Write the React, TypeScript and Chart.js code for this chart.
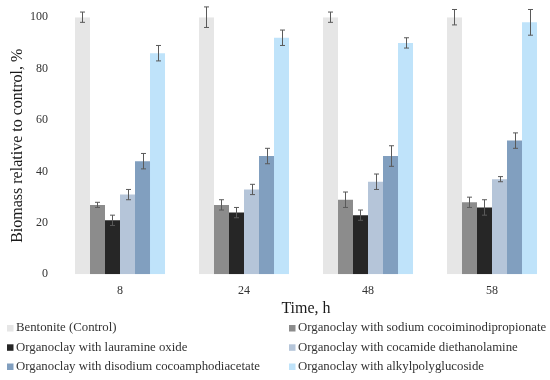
import React, { useEffect, useRef } from "react";
import { Chart, registerables } from "chart.js";

Chart.register(...registerables);

const categories = ["8", "24", "48", "58"];

const seriesLabels = [
  "Bentonite (Control)",
  "Organoclay with sodium cocoiminodipropionate",
  "Organoclay with lauramine oxide",
  "Organoclay with cocamide diethanolamine",
  "Organoclay with disodium cocoamphodiacetate",
  "Organoclay with alkylpolyglucoside",
];

const bentonite = [100, 100, 100, 100];
const bentoniteErr = [2, 4, 2, 3];
const sodium = [27, 27, 29, 28];
const sodiumErr = [1, 2, 3, 2];
const lauramine = [21, 24, 23, 26];
const lauramineErr = [2, 2, 2, 3];
const cocamide = [31, 33, 36, 37];
const cocamideErr = [2, 2, 3, 1];
const disodium = [44, 46, 46, 52];
const disodiumErr = [3, 3, 4, 3];
const alkyl = [86, 92, 90, 98];
const alkylErr = [3, 3, 2, 5];

const seriesValues = [bentonite, sodium, lauramine, cocamide, disodium, alkyl];
const seriesErrors = [bentoniteErr, sodiumErr, lauramineErr, cocamideErr, disodiumErr, alkylErr];
const seriesColors = ["#e6e6e6", "#8c8c8c", "#262626", "#b5c5d9", "#819fbf", "#bfe3fa"];

const yTicks = [0, 20, 40, 60, 80, 100];

const FONT = "'Liberation Serif', 'Times New Roman', serif";

const errorBarPlugin = {
  id: "errorBars",
  afterDatasetsDraw(chart: any) {
    const ctx = chart.ctx;
    const yScale = chart.scales.y;
    ctx.save();
    ctx.strokeStyle = "#5a5a5a";
    ctx.lineWidth = 1;
    chart.data.datasets.forEach((ds: any, i: number) => {
      const meta = chart.getDatasetMeta(i);
      meta.data.forEach((el: any, j: number) => {
        const v = ds.data[j];
        const e = ds.errors[j];
        const x = Math.round(el.x) + 0.5;
        const yt = yScale.getPixelForValue(v + e);
        const yb = yScale.getPixelForValue(v - e);
        ctx.beginPath();
        ctx.moveTo(x, yt);
        ctx.lineTo(x, yb);
        ctx.moveTo(x - 2.5, yt);
        ctx.lineTo(x + 2.5, yt);
        ctx.moveTo(x - 2.5, yb);
        ctx.lineTo(x + 2.5, yb);
        ctx.stroke();
      });
    });
    ctx.restore();
  },
};

const legendPlugin = {
  id: "gridLegend",
  afterDraw(chart: any) {
    const ctx = chart.ctx;
    const colX = [7, 289];
    const rowY = [328, 347.3, 366.5];
    ctx.save();
    ctx.font = `12.8px ${FONT}`;
    ctx.textBaseline = "middle";
    ctx.textAlign = "left";
    chart.data.datasets.forEach((ds: any, i: number) => {
      const col = i % 2;
      const row = Math.floor(i / 2);
      const x = colX[col];
      const y = rowY[row];
      ctx.fillStyle = ds.backgroundColor;
      ctx.fillRect(x, y - 3, 6.5, 6.5);
      ctx.fillStyle = "#333333";
      ctx.fillText(ds.label, x + 9, y);
    });
    ctx.restore();
  },
};

export default function App() {
  const ref = useRef<HTMLCanvasElement>(null);

  useEffect(() => {
    if (!ref.current) return;
    const chart = new Chart(ref.current, {
      type: "bar",
      data: {
        labels: categories,
        datasets: seriesValues.map((vals, i) => ({
          label: seriesLabels[i],
          data: vals,
          errors: seriesErrors[i],
          backgroundColor: seriesColors[i],
          borderWidth: 0,
          categoryPercentage: 0.726,
          barPercentage: 1,
        })) as any,
      },
      options: {
        responsive: false,
        animation: false,
        devicePixelRatio: 1,
        layout: { padding: { top: 16, right: 2, bottom: 63.7, left: 0 } },
        plugins: {
          legend: { display: false },
          tooltip: { enabled: false },
        },
        scales: {
          x: {
            grid: { display: false, drawTicks: false },
            border: { display: false },
            ticks: { font: { family: FONT, size: 12 }, color: "#333333", padding: 9 },
            title: {
              display: true,
              text: "Time, h",
              font: { family: FONT, size: 16, lineHeight: 1 },
              color: "#1a1a1a",
              padding: { top: 0, bottom: 0 },
            },
            afterFit(scale: any) {
              scale.height = 42;
            },
          },
          y: {
            min: 0,
            max: 100,
            afterBuildTicks(scale: any) {
              scale.ticks = yTicks.map((v) => ({ value: v }));
            },
            grid: { display: false, drawTicks: false },
            border: { display: false },
            ticks: { font: { family: FONT, size: 12 }, color: "#333333", padding: 10 },
            title: {
              display: true,
              text: "Biomass relative to control, %",
              font: { family: FONT, size: 16, lineHeight: 1 },
              color: "#1a1a1a",
              padding: { top: 10, bottom: 0 },
            },
            afterFit(scale: any) {
              scale.width = 58;
            },
          },
        },
      },
      plugins: [errorBarPlugin, legendPlugin],
    });
    return () => chart.destroy();
  }, []);

  return (
    <div
      style={{
        position: "fixed",
        left: 0,
        top: 0,
        width: 550,
        height: 380,
        overflow: "hidden",
        background: "#ffffff",
      }}
    >
      <canvas ref={ref} width={556} height={380} style={{ display: "block" }} />
    </div>
  );
}
